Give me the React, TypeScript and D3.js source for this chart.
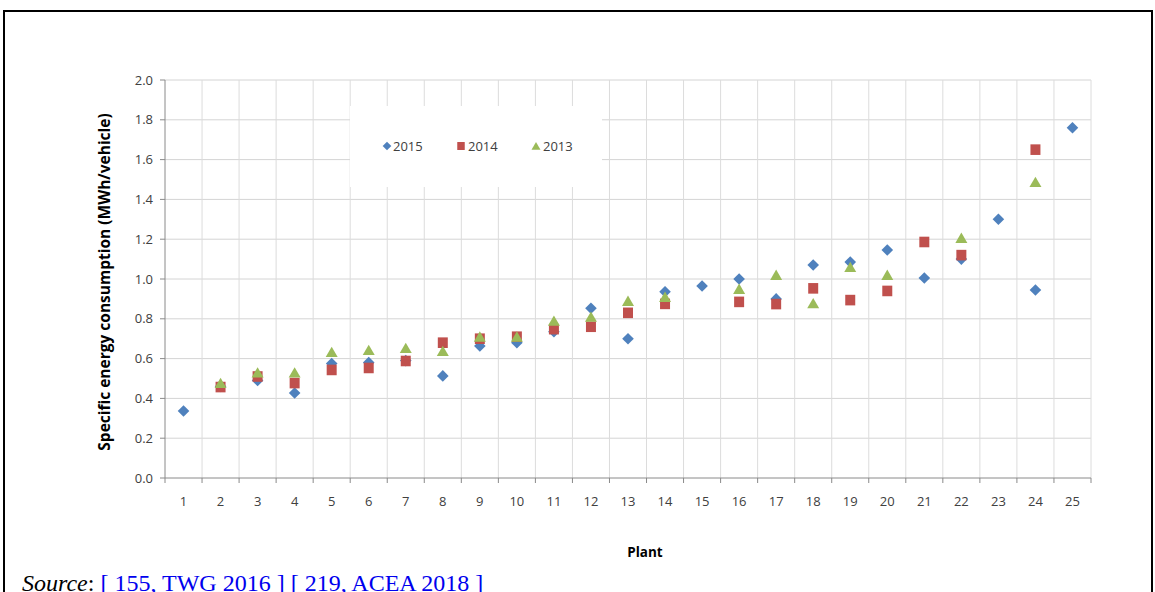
import React from "react";
import * as d3 from "d3";

const plants: string[] = ["1","2","3","4","5","6","7","8","9","10","11","12","13","14","15","16","17","18","19","20","21","22","23","24","25"];
const values2015: (number | null)[] = [0.337,0.46,0.49,0.427,0.575,0.58,0.59,0.513,0.663,0.68,0.735,0.853,0.70,0.936,0.965,1.00,0.90,1.07,1.085,1.146,1.005,1.10,1.30,0.945,1.76];
const values2014: (number | null)[] = [null,0.457,0.51,0.477,0.543,0.553,0.588,0.68,0.70,0.71,0.748,0.76,0.83,0.875,null,0.885,0.874,0.953,0.894,0.94,1.186,1.12,null,1.65,null];
const values2013: (number | null)[] = [null,0.477,0.53,0.53,0.633,0.643,0.653,0.638,0.71,0.71,0.79,0.81,0.89,0.91,null,0.95,1.02,0.878,1.06,1.02,null,1.206,null,1.487,null];
const yTicks: number[] = [0,0.2,0.4,0.6,0.8,1.0,1.2,1.4,1.6,1.8,2.0];
const seriesNames: string[] = ["2015","2014","2013"];
const seriesColors: string[] = ["#4F81BD","#C0504D","#9BBB59"];

const W = 1155, H = 592;
const plot = { left: 165, right: 1091, top: 80, bottom: 478 };

function markerPath(kind: number): string {
  if (kind === 0) return "M0,-5.8L5.8,0L0,5.8L-5.8,0Z";
  if (kind === 1) return "M-5,-5.3H5V5.3H-5Z";
  return "M0,-5.4L6,5L-6,5Z";
}

export default function App() {
  const x = d3.scaleBand<string>().domain(plants).range([plot.left, plot.right]).padding(0);
  const y = d3.scaleLinear().domain([0, 2]).range([plot.bottom, plot.top]);
  const bw = x.bandwidth();
  const boundaries = d3.range(plants.length + 1).map((i) => plot.left + i * bw);
  const series = [values2015, values2014, values2013];
  const font = "'Open Sans', sans-serif";
  const legendItems = [
    { mx: 387, tx: 393 },
    { mx: 461, tx: 468 },
    { mx: 536, tx: 543 },
  ];
  return (
    <svg width={W} height={H} style={{ position: "absolute", left: 0, top: 0, background: "#fff" }}>
      <rect x={0} y={0} width={W} height={H} fill="#fff" />
      {/* frame */}
      <path d={`M4,${H + 5}V11H1152V${H + 5}`} fill="none" stroke="#000" strokeWidth={2} />
      {/* gridlines */}
      {yTicks.slice(1).map((t) => (
        <line key={"h" + t} x1={plot.left} x2={plot.right} y1={y(t)} y2={y(t)} stroke="#d4d4d4" strokeWidth={1} />
      ))}
      {boundaries.slice(1).map((b, i) => (
        <line key={"v" + i} x1={b} x2={b} y1={plot.top} y2={plot.bottom} stroke="#dcdcdc" strokeWidth={1} />
      ))}
      {/* axes */}
      <line x1={plot.left} x2={plot.left} y1={plot.top} y2={plot.bottom} stroke="#8a8a8a" />
      <line x1={plot.left} x2={plot.right} y1={plot.bottom} y2={plot.bottom} stroke="#8a8a8a" />
      {yTicks.map((t) => (
        <g key={"yt" + t}>
          <line x1={plot.left - 5} x2={plot.left} y1={y(t)} y2={y(t)} stroke="#8a8a8a" />
          <text x={153} y={y(t)} dy="0.35em" textAnchor="end" fontFamily={font} fontSize={13} fill="#404040">
            {t.toFixed(1)}
          </text>
        </g>
      ))}
      {boundaries.map((b, i) => (
        <line key={"xt" + i} x1={b} x2={b} y1={plot.bottom} y2={plot.bottom + 5} stroke="#8a8a8a" />
      ))}
      {plants.map((p) => (
        <text key={"xl" + p} x={(x(p) as number) + bw / 2} y={501} dy="0.35em" textAnchor="middle" fontFamily={font} fontSize={13} fill="#404040">
          {p}
        </text>
      ))}
      {/* axis titles */}
      <text transform={`translate(105,282) rotate(-90)`} textAnchor="middle" dy="0.35em" fontFamily={font} fontWeight="bold" fontSize={15.5} fill="#000">
        Specific energy consumption (MWh/vehicle)
      </text>
      <text x={645} y={552} dy="0.35em" textAnchor="middle" fontFamily={font} fontWeight="bold" fontSize={13.5} fill="#000">
        Plant
      </text>
      {/* legend box */}
      <rect x={350} y={106} width={252} height={81} fill="#fff" />
      {seriesNames.map((s, i) => (
        <g key={"lg" + s}>
          <path d={markerPath(i)} transform={`translate(${legendItems[i].mx},146) scale(0.75)`} fill={seriesColors[i]} />
          <text x={legendItems[i].tx} y={146} dy="0.35em" fontFamily={font} fontSize={13} fill="#404040">
            {s}
          </text>
        </g>
      ))}
      {/* markers */}
      {series.map((vals, si) => (
        <g key={"s" + si}>
          {vals.map((v, i) =>
            v == null ? null : (
              <path key={i} d={markerPath(si)} transform={`translate(${(x(plants[i]) as number) + bw / 2},${y(v)})`} fill={seriesColors[si]} />
            )
          )}
        </g>
      ))}
      {/* source */}
      <text x={22} y={591} fontFamily="'Liberation Serif', 'Times New Roman', serif" fontSize={24}>
        <tspan fontStyle="italic" fill="#000">Source</tspan>
        <tspan fill="#000">: </tspan>
        <tspan fill="#0000EE">[ 155, TWG 2016 ] [ 219, ACEA 2018 ]</tspan>
      </text>
    </svg>
  );
}
